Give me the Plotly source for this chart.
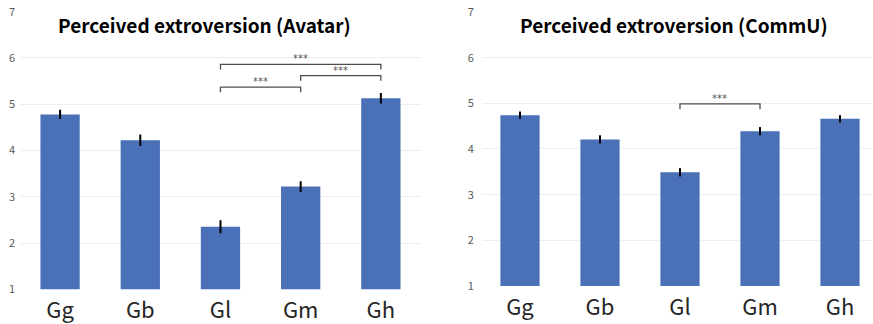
import plotly.graph_objects as go

categories = ["Gg", "Gb", "Gl", "Gm", "Gh"]
avatar_means = [4.78, 4.22, 2.35, 3.22, 5.13]
avatar_err = [0.10, 0.125, 0.14, 0.115, 0.115]
commu_means = [4.74, 4.21, 3.49, 4.39, 4.66]
commu_err = [0.08, 0.09, 0.09, 0.09, 0.08]
y_ticks = [1, 2, 3, 4, 5, 6, 7]

avatar_pairs = [(2, 4), (3, 4), (2, 3)]
avatar_bracket_y = [5.86, 5.62, 5.37]
commu_pairs = [(2, 3)]
commu_bracket_y = [4.99]
sig_label = "***"

titles = ["Perceived extroversion (Avatar)", "Perceived extroversion (CommU)"]

BAR = "#4a71b8"
GRID = "#ededed"
TICKC = "#595959"

fig = go.Figure()
idx = list(range(len(categories)))
fig.add_trace(go.Bar(x=idx, y=avatar_means, width=0.49, marker=dict(color=BAR, line=dict(width=0)),
                     error_y=dict(type="data", array=avatar_err, color="black", thickness=2, width=0),
                     xaxis="x", yaxis="y", showlegend=False))
fig.add_trace(go.Bar(x=idx, y=commu_means, width=0.49, marker=dict(color=BAR, line=dict(width=0)),
                     error_y=dict(type="data", array=commu_err, color="black", thickness=2, width=0),
                     xaxis="x2", yaxis="y2", showlegend=False))

xcommon = dict(tickmode="array", tickvals=idx, ticktext=categories, showgrid=False, zeroline=False,
               showline=False, ticks="", automargin=False, ticklabelstandoff=6,
               tickfont=dict(family="Noto Sans CJK JP", size=22, color="#262626"),
               fixedrange=True)
ycommon = dict(tickmode="array", tickvals=y_ticks, range=[1, 7], showgrid=True, gridcolor=GRID, gridwidth=1,
               zeroline=False, showline=False, ticks="", automargin=False,
               tickfont=dict(family="Noto Sans CJK JP", size=11, color=TICKC))

fig.update_layout(
    width=873, height=324, margin=dict(l=0, r=0, t=0, b=0),
    paper_bgcolor="white", plot_bgcolor="white",
    xaxis=dict(domain=[0.0229, 0.4822], range=[-0.5, 4.5], anchor="y", **xcommon),
    yaxis=dict(domain=[0.1071, 0.9639], anchor="x", ticklabelstandoff=4, **ycommon),
    xaxis2=dict(domain=[0.5521, 1.0], range=[-0.475, 4.4125], anchor="y2", **xcommon),
    yaxis2=dict(domain=[0.1173, 0.963], anchor="x2", ticklabelstandoff=7, **ycommon),
)

# cover the top gridline behind titles
fig.add_shape(type="rect", xref="paper", yref="paper", x0=0.022, x1=0.50, y0=0.95, y1=0.98,
              fillcolor="white", line=dict(width=0), layer="above")
fig.add_shape(type="rect", xref="paper", yref="paper", x0=0.561, x1=0.983, y0=0.95, y1=0.98,
              fillcolor="white", line=dict(width=0), layer="above")


def brackets(pairs, heights, xr, yr, leg):
    for (a, b), h in zip(pairs, heights):
        fig.add_shape(type="path", xref=xr, yref=yr,
                      path=f"M {a},{h - leg} L {a},{h} L {b},{h} L {b},{h - leg}",
                      line=dict(color="#4d4d4d", width=1.3))
        fig.add_annotation(x=(a + b) / 2, y=h, xref=xr, yref=yr, text=sig_label, showarrow=False,
                           yanchor="bottom", yshift=-2,
                           font=dict(family="DejaVu Sans", size=10, color="#555555"))


brackets(avatar_pairs, avatar_bracket_y, "x", "y", 0.11)
brackets(commu_pairs, commu_bracket_y, "x2", "y2", 0.12)

for t, cx in zip(titles, [0.2337, 0.7715]):
    fig.add_annotation(x=cx, y=1 - 24 / 324, xref="paper", yref="paper", text=f"<b>{t}</b>",
                       showarrow=False, xanchor="center", yanchor="middle",
                       font=dict(family="Noto Sans CJK JP", size=19, color="black"))

fig.write_html("out.html", config={"displayModeBar": False},
               post_script="document.body.style.margin='0';document.body.style.overflow='hidden';")
